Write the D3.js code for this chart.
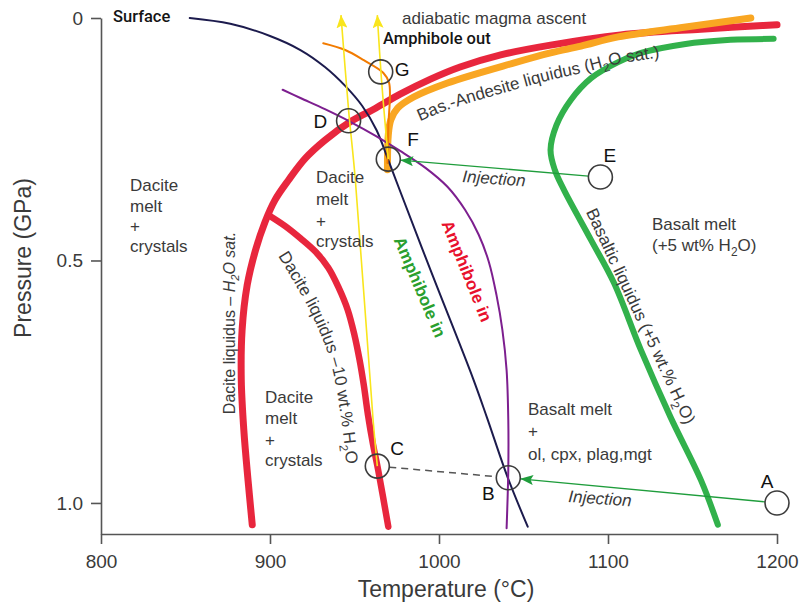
<!DOCTYPE html>
<html>
<head>
<meta charset="utf-8">
<script src="https://cdn.jsdelivr.net/npm/d3@7"></script>
<style>
  html, body { margin: 0; padding: 0; background: #fff; }
  svg { display: block; font-family: "Liberation Sans", Arial, Helvetica, sans-serif; }
</style>
</head>
<body>
<svg id="chart" width="808" height="606"></svg>
<script>
// ---- axis ticks ----
const temperatureTicks = [800, 900, 1000, 1100, 1200];   // °C
const pressureTicks = [0, 0.5, 1.0];                      // GPa

// ---- phase boundaries, [temperature °C, pressure GPa] ----
const daciteLiquidusH2OSat = [
  [1200, 0.014], [1155, 0.023], [1107.5, 0.035], [1066, 0.056], [1036.5, 0.076],
  [1012.5, 0.101], [995, 0.126], [977, 0.157], [962.5, 0.186], [947.5, 0.214],
  [932.5, 0.252], [921, 0.289], [911, 0.334], [903, 0.375], [897, 0.421],
  [891.5, 0.478], [886.5, 0.551], [883.5, 0.643], [883, 0.746], [884.5, 0.849],
  [887, 0.953], [889.5, 1.045]
];
const daciteLiquidus10wt = [
  [899, 0.406], [909, 0.429], [918, 0.454], [927, 0.482], [934.5, 0.515],
  [940.5, 0.555], [946, 0.602], [950, 0.654], [953, 0.705], [955.5, 0.757],
  [958, 0.819], [961, 0.880], [964, 0.932], [970, 1.049]
];
const basAndesiteLiquidus = [
  [1184.5, 0.0], [1145, 0.019], [1106, 0.039], [1084, 0.058], [1066, 0.072],
  [1044, 0.093], [1005, 0.134], [985, 0.163], [975.5, 0.186], [971.5, 0.210],
  [970, 0.241], [969.5, 0.313]
];
const basalticLiquidus = [
  [1198, 0.043], [1172.5, 0.045], [1145, 0.054], [1119.5, 0.072], [1106, 0.091],
  [1090, 0.124], [1078, 0.169], [1069.5, 0.221], [1066, 0.272], [1068.5, 0.313],
  [1074, 0.355], [1090, 0.458], [1103.5, 0.546], [1119.5, 0.685], [1137, 0.823],
  [1155, 0.953], [1165, 1.045]
];
const surfaceCurve = [
  [852.5, 0.0], [876.5, 0.012], [900, 0.037], [918, 0.066], [932.5, 0.101],
  [944.5, 0.140], [954.5, 0.181], [963, 0.231], [970, 0.293], [976, 0.348],
  [995, 0.520], [1020, 0.742], [1028.5, 0.825], [1040.5, 0.946], [1052.5, 1.049]
];
const amphiboleIn = [
  [907.5, 0.148], [918, 0.165], [932.5, 0.188], [947.5, 0.214], [962.5, 0.243],
  [977, 0.274], [992, 0.309], [1005, 0.348], [1015.5, 0.396], [1023.5, 0.447],
  [1029.5, 0.503], [1034, 0.571], [1037.5, 0.643], [1040, 0.726], [1041, 0.829],
  [1041, 0.932], [1040, 1.052]
];
const amphiboleOut = [
  [931.5, 0.052], [944.5, 0.066], [955.5, 0.087], [967, 0.113], [970.5, 0.134],
  [970, 0.225], [969.5, 0.299]
];
const ascentFromC = [[963.5, 0.924], [961, 0.829], [950.5, 0.334], [946.5, 0.190], [942, -0.006]];
const ascentFromF = [[970, 0.291], [966, 0.128], [963.5, -0.006]];

// ---- labelled states ----
const stationNames = ["A", "B", "C", "D", "E", "F", "G"];
const stationT = [1200, 1041, 963.5, 946.5, 1095.5, 970, 965.5];
const stationP = [1.0, 0.948, 0.924, 0.212, 0.328, 0.291, 0.111];

const stations = {};
stationNames.forEach((n, i) => { stations[n] = [stationT[i], stationP[i]]; });

// ---- scales ----
const x = d3.scaleLinear().domain([800, 1200]).range([101, 777]);
const y = d3.scaleLinear().domain([0, 1.064]).range([18, 534]);

const svg = d3.select("#chart");
const defs = svg.append("defs");

defs.append("filter").attr("id", "soft")
  .attr("filterUnits", "userSpaceOnUse")
  .attr("x", 0).attr("y", 0).attr("width", 808).attr("height", 606)
  .append("feGaussianBlur").attr("stdDeviation", 0.7);

function arrowMarker(id, color, len, wid) {
  defs.append("marker").attr("id", id)
    .attr("viewBox", `0 0 ${len} ${wid}`)
    .attr("refX", len).attr("refY", wid / 2)
    .attr("markerWidth", len).attr("markerHeight", wid)
    .attr("markerUnits", "userSpaceOnUse")
    .attr("orient", "auto")
    .append("path")
    .attr("d", `M0,0 L${len},${wid / 2} L0,${wid} L${len * 0.2},${wid / 2} Z`)
    .attr("fill", color);
}
arrowMarker("arrowYellow", "#f9e51c", 13, 11);
arrowMarker("arrowGreen", "#1f9d3c", 13, 10);

// ---- axes ----
const axisColor = "#555";
const tickTextColor = "#3a3a3a";

const gx = svg.append("g")
  .attr("transform", `translate(0,${y.range()[1]})`)
  .call(d3.axisBottom(x).tickValues(temperatureTicks).tickFormat(d3.format("d"))
    .tickSize(10).tickSizeOuter(0).tickPadding(11));
const gy = svg.append("g")
  .attr("transform", `translate(${x.range()[0]},0)`)
  .call(d3.axisLeft(y).tickValues(pressureTicks)
    .tickFormat(d => d === 0 ? "0" : d3.format(".1f")(d))
    .tickSize(10).tickSizeOuter(0).tickPadding(8));

[gx, gy].forEach(g => {
  g.select(".domain").attr("stroke", axisColor).attr("stroke-width", 1.6);
  g.selectAll(".tick line").attr("stroke", axisColor).attr("stroke-width", 1.6);
  g.selectAll(".tick text").attr("fill", tickTextColor)
    .attr("font-size", 19).attr("font-family", "Liberation Sans, Arial, sans-serif");
});

svg.append("text")
  .attr("x", 446).attr("y", 597)
  .attr("text-anchor", "middle").attr("font-size", 23).attr("fill", tickTextColor)
  .text("Temperature (°C)");
svg.append("text")
  .attr("transform", "translate(31,258) rotate(-90)")
  .attr("text-anchor", "middle").attr("font-size", 23).attr("fill", tickTextColor)
  .text("Pressure (GPa)");

// ---- curves ----
const line = d3.line()
  .x(d => x(d[0])).y(d => y(d[1]))
  .curve(d3.curveCatmullRom.alpha(0.5));

const plot = svg.append("g");

function drawCurve(data, color, width, opts = {}) {
  const p = plot.append("path")
    .attr("d", line(data))
    .attr("fill", "none")
    .attr("stroke", color)
    .attr("stroke-width", width)
    .attr("stroke-linecap", opts.cap || "round")
    .attr("stroke-linejoin", "round");
  if (opts.soft) p.attr("filter", "url(#soft)");
  if (opts.marker) p.attr("marker-end", `url(#${opts.marker})`);
  if (opts.dash) p.attr("stroke-dasharray", opts.dash);
  return p;
}

// thick liquidus bands
drawCurve(daciteLiquidusH2OSat, "#e8283e", 7, { soft: true });
drawCurve(daciteLiquidus10wt, "#e8283e", 6.5, { soft: true });
drawCurve(basAndesiteLiquidus, "#f9a621", 7, { soft: true });
drawCurve(basalticLiquidus, "#30b14c", 6, { soft: true });

// thin boundaries
drawCurve(surfaceCurve, "#1c1b4d", 2);
drawCurve(amphiboleIn, "#7d1f8f", 2);
drawCurve(amphiboleOut, "#f27b00", 2);

// ascent paths
drawCurve(ascentFromC, "#f9e51c", 1.6, { marker: "arrowYellow", cap: "butt" });
drawCurve(ascentFromF, "#f9e51c", 1.6, { marker: "arrowYellow", cap: "butt" });

// ---- connections between labelled states ----
const R = 12;
function edgePoint(from, to, r) {
  const fx = x(from[0]), fy = y(from[1]), tx = x(to[0]), ty = y(to[1]);
  const len = Math.hypot(tx - fx, ty - fy);
  return [fx + (tx - fx) / len * r, fy + (ty - fy) / len * r];
}
function connect(a, b, color, width, opts = {}) {
  const s = edgePoint(stations[a], stations[b], R);
  const e = edgePoint(stations[b], stations[a], R + (opts.gap || 0));
  const l = plot.append("line")
    .attr("x1", s[0]).attr("y1", s[1]).attr("x2", e[0]).attr("y2", e[1])
    .attr("stroke", color).attr("stroke-width", width);
  if (opts.marker) l.attr("marker-end", `url(#${opts.marker})`);
  if (opts.dash) l.attr("stroke-dasharray", opts.dash);
}
connect("A", "B", "#1f9d3c", 1.3, { marker: "arrowGreen" });
connect("E", "F", "#1f9d3c", 1.3, { marker: "arrowGreen" });
connect("C", "B", "#555", 1.5, { dash: "7,5" });

plot.selectAll("circle.station")
  .data(stationNames)
  .join("circle")
  .attr("class", "station")
  .attr("cx", d => x(stations[d][0]))
  .attr("cy", d => y(stations[d][1]))
  .attr("r", R)
  .attr("fill", "none")
  .attr("stroke", "#3c3c3c")
  .attr("stroke-width", 1.6);

// station letters: offset from circle centre and anchor
const letterOffsets = {
  A: [-10, -15, "middle"], B: [-20, 22, "middle"], C: [13, -11, "start"],
  D: [-35, 7, "start"], E: [3, -15, "start"], F: [19, -13, "start"], G: [14, 4, "start"]
};
svg.append("g").selectAll("text")
  .data(stationNames)
  .join("text")
  .attr("x", d => x(stations[d][0]) + letterOffsets[d][0])
  .attr("y", d => y(stations[d][1]) + letterOffsets[d][1])
  .attr("text-anchor", d => letterOffsets[d][2])
  .attr("font-size", 19)
  .attr("fill", "#111")
  .text(d => d);

// ---- text annotations ----
const labelColor = "#3a3a3a";
const FS = 17;

// segments: [string, style] with style "", "sub", "i", "isub"
function rich(textSel, segs, fs) {
  let shifted = false;
  segs.forEach(([s, st]) => {
    const ts = textSel.append("tspan").text(s);
    const sub = st.includes("sub");
    if (st.includes("i")) ts.attr("font-style", "italic");
    if (sub) {
      ts.attr("font-size", fs * 0.7);
      if (!shifted) { ts.attr("dy", fs * 0.3); shifted = true; }
    } else if (shifted) {
      ts.attr("dy", -fs * 0.3); shifted = false;
    }
  });
}

function block(x0, baselines, lines, opts = {}) {
  lines.forEach((ln, i) => {
    const t = svg.append("text")
      .attr("x", x0).attr("y", baselines[i])
      .attr("font-size", opts.fs || FS)
      .attr("fill", opts.color || labelColor);
    if (Array.isArray(ln)) rich(t, ln, opts.fs || FS); else t.text(ln);
  });
}

block(130, [191, 212, 232, 252], ["Dacite", "melt", "+", "crystals"]);
block(316, [183, 205, 227, 247], ["Dacite", "melt", "+", "crystals"]);
block(265, [403, 424, 446, 466], ["Dacite", "melt", "+", "crystals"]);
block(652, [230, 251], ["Basalt melt", [["(+5 wt% H", ""], ["2", "sub"], ["O)", ""]]]);
block(528, [415, 437, 460], ["Basalt melt", "+", "ol, cpx, plag,mgt"]);

svg.append("text").attr("x", 113).attr("y", 22)
  .attr("font-family", "Roboto, sans-serif")
  .attr("font-size", 16.5).attr("font-weight", 500).attr("fill", "#151515").text("Surface");
svg.append("text").attr("x", 383).attr("y", 44)
  .attr("font-family", "Roboto, sans-serif")
  .attr("font-size", 16.5).attr("font-weight", 500).attr("fill", "#151515").text("Amphibole out");
svg.append("text").attr("x", 402).attr("y", 24)
  .attr("font-size", FS).attr("fill", labelColor).text("adiabatic magma ascent");

function rotated(cx, cy, angle, segs, opts = {}) {
  const t = svg.append("text")
    .attr("transform", `translate(${cx},${cy}) rotate(${angle})`)
    .attr("text-anchor", opts.anchor || "middle")
    .attr("dy", opts.dy == null ? "0.35em" : opts.dy)
    .attr("font-size", opts.fs || FS)
    .attr("fill", opts.color || labelColor);
  if (opts.weight) t.attr("font-weight", opts.weight);
  if (opts.style) t.attr("font-style", opts.style);
  rich(t, segs, opts.fs || FS);
  return t;
}

rotated(229, 323, -90, [["Dacite liquidus – ", ""], ["H", "i"], ["2", "isub"], ["O sat.", "i"]], { fs: 16 });
rotated(641, 316, 65, [["Basaltic liquidus (+5 wt.% H", ""], ["2", "sub"], ["O)", ""]]);
rotated(420, 287, 67, [["Amphibole in", ""]], { weight: "bold", color: "#2a9f2e" });
rotated(467, 271, 68, [["Amphibole in", ""]], { weight: "bold", color: "#e8112d" });
rotated(462, 182, 4, [["Injection", ""]], { anchor: "start", dy: 0, style: "italic" });
rotated(568, 502, 4, [["Injection", ""]], { anchor: "start", dy: 0, style: "italic" });

// labels that follow curved boundaries
const bandShift = 27;
const andesiteLabelPath = basAndesiteLiquidus.filter(d => d[0] >= 980).slice().reverse()
  .map(d => [x(d[0]), y(d[1]) + bandShift]);
defs.append("path").attr("id", "andesiteLabel")
  .attr("d", d3.line().curve(d3.curveCatmullRom.alpha(0.5))(andesiteLabelPath));
const tA = svg.append("text").attr("font-size", FS).attr("fill", labelColor)
  .append("textPath").attr("href", "#andesiteLabel").attr("startOffset", 7);
rich(tA, [["Bas.-Andesite liquidus (H", ""], ["2", "sub"], ["O sat.)", ""]], FS);

defs.append("path").attr("id", "dacite10Label")
  .attr("d", d3.line().curve(d3.curveCatmullRom.alpha(0.5))(
    [[278, 256], [310, 311], [330, 360], [340, 411], [347, 470], [350, 500]]));
const tD = svg.append("text").attr("font-size", FS).attr("fill", labelColor)
  .append("textPath").attr("href", "#dacite10Label").attr("startOffset", 0);
rich(tD, [["Dacite liquidus –10 wt.% H", ""], ["2", "sub"], ["O", ""]], FS);
</script>
</body>
</html>
